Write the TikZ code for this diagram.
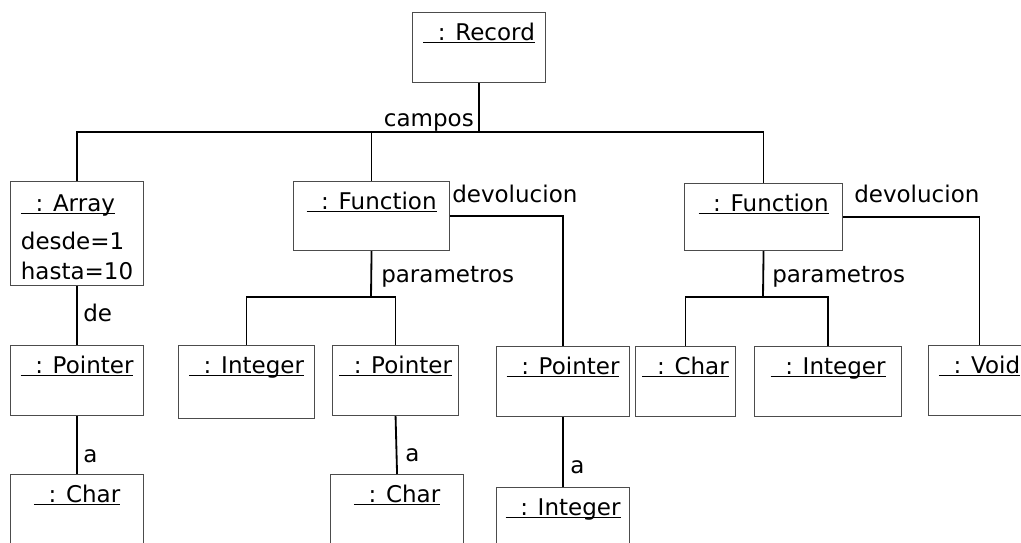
\documentclass[tikz,border=0pt]{standalone}
\usepackage{fontspec}
\setmainfont{DejaVu Sans}

% underlined object name, smashed so every underline sits at the same depth
\newcommand{\objname}[1]{\underline{\smash{\ \ #1}}}

\begin{document}
\begin{tikzpicture}[x=0.025cm, y=-0.025cm, font=\fontsize{16.36pt}{21.3pt}\selectfont]

      % one unit is one pixel of the original sketch, y runs downwards
      \def\px{0.025cm}

      % object boxes: name at the top, empty space below it
      \tikzstyle{obj}=[draw=black!70, line width=0.8pt, rectangle, anchor=north west, inner sep=0pt, text height=0.7cm, text depth=1.05cm]
      \tikzstyle{lbl}=[inner sep=0pt, anchor=base west]
      \tikzstyle{link}=[line width=1.3pt]

      \useasboundingbox (0,0) rectangle (1021,543);
      \clip (0,0) rectangle (1021,543);

      % first level
      \node[obj, minimum width=133*\px] (rec) at (412,12) {\objname{: Record}};
      \node[obj, minimum width=133*\px, align=left, text height=2.45cm, text depth=0.15cm] (arr) at (10,181) {\objname{: Array}\\[0.2cm]desde=1\\hasta=10};
      \node[obj, minimum width=156*\px, text depth=1.025cm] (fun1) at (293,181) {\objname{: Function}};
      \node[obj, minimum width=158*\px, text depth=0.975cm] (fun2) at (684,183) {\objname{: Function}};

      % second level
      \node[obj, minimum width=133*\px] (ptr1) at (10,345) {\objname{: Pointer}};
      \node[obj, minimum width=136*\px, text depth=1.125cm] (int1) at (178,345) {\objname{: Integer}};
      \node[obj, minimum width=126*\px] (ptr2) at (332,345) {\objname{: Pointer}};
      \node[obj, minimum width=133*\px] (ptr3) at (496,346) {\objname{: Pointer}};
      \node[obj, minimum width=100*\px] (chr3) at (635,346) {\objname{: Char}};
      \node[obj, minimum width=147*\px] (int2) at (754,346) {\objname{: Integer}};
      \node[obj, minimum width=102*\px] (void) at (928,345) {\objname{: Void}};

      % third level
      \node[obj, minimum width=133*\px] (chr1) at (10,474) {\objname{: Char}};
      \node[obj, minimum width=133*\px] (chr2) at (330,474) {\objname{: Char}};
      \node[obj, minimum width=133*\px] (int3) at (496,487) {\objname{: Integer}};

      % join points of the branching links
      \coordinate (campos) at (479,132);
      \coordinate (params1) at (371,297);
      \coordinate (params2) at (763,297);

      \draw[link] (rec.south) -- (campos);
      \draw[link] (arr.north) |- (campos);
      \draw[link] (fun1.north) |- (campos);
      \draw[link] (fun2.north) |- (campos);

      \draw[link] (arr.south) -- (ptr1.north);
      \draw[link] (ptr1.south) -- (chr1.north);

      \draw[link] (fun1.south) -- (params1);
      \draw[link] (int1.north) |- (params1);
      \draw[link] (ptr2.north) |- (params1);
      \draw[link] (ptr2.south) -- (chr2.north);
      \draw[link] (fun1.east) -| (ptr3.north);
      \draw[link] (ptr3.south) -- (int3.north);

      \draw[link] (fun2.south) -- (params2);
      \draw[link] (chr3.north) |- (params2);
      \draw[link] (int2.north) |- (params2);
      \draw[link] (fun2.east) -| (void.north);

      % role names
      \node[lbl, anchor=base east] (lcampos) at (474,127) {campos};
      \node[lbl] (ldev1) at (452,203) {devolucion};
      \node[lbl] (ldev2) at (854,203) {devolucion};
      \node[lbl] (lpar1) at (381,283) {parametros};
      \node[lbl] (lpar2) at (772,283) {parametros};
      \node[lbl] (lde) at (83,322) {de};
      \node[lbl] (la1) at (83,463) {a};
      \node[lbl] (la2) at (405,462) {a};
      \node[lbl] (la3) at (570,474) {a};

\end{tikzpicture}
\end{document}
